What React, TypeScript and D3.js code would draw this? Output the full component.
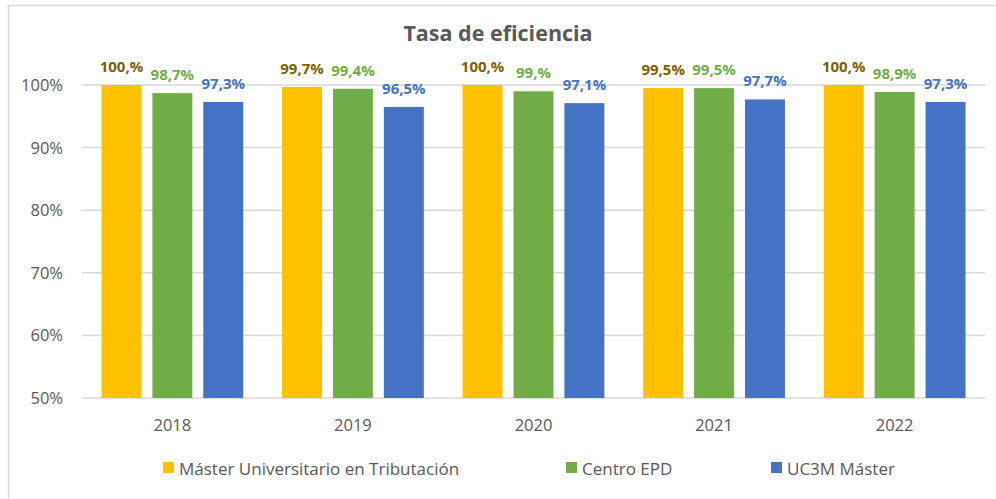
import React from "react";
import * as d3 from "d3";

const categories = ["2018", "2019", "2020", "2021", "2022"];
const seriesNames = ["Máster Universitario en Tributación", "Centro EPD", "UC3M Máster"];
const masterValues = [100, 99.7, 100, 99.5, 100];
const centroValues = [98.7, 99.4, 99.0, 99.5, 98.9];
const uc3mValues = [97.3, 96.5, 97.1, 97.7, 97.3];
const masterLabels = ["100,%", "99,7%", "100,%", "99,5%", "100,%"];
const centroLabels = ["98,7%", "99,4%", "99,%", "99,5%", "98,9%"];
const uc3mLabels = ["97,3%", "96,5%", "97,1%", "97,7%", "97,3%"];
const yTicks = [50, 60, 70, 80, 90, 100];

const colors = ["#FFC000", "#70AD47", "#4472C4"];
const labelColors = ["#7F6000", "#70AD47", "#4472C4"];
const FONT = "'Open Sans', 'Noto Sans', sans-serif";

export default function App() {
  const W = 996, H = 499;
  const left = 82, right = 985, top = 85, bottom = 398;
  const x = d3.scaleBand<string>().domain(categories).range([left, right]).paddingInner(0.215).paddingOuter(0.108);
  const inner = d3.scaleBand<number>().domain([0, 1, 2]).range([0, x.bandwidth()]).paddingInner(0.215);
  const y = d3.scaleLinear().domain([50, 100]).range([bottom, top]);
  const values = [masterValues, centroValues, uc3mValues];
  const labels = [masterLabels, centroLabels, uc3mLabels];
  const legendX = [163, 566, 771];

  return (
    <svg width={W} height={H} style={{ position: "absolute", left: 0, top: 0, background: "#fff" }} fontFamily={FONT}>
      <rect x={8.5} y={5.5} width={W + 10} height={H + 10} fill="#fff" stroke="#D9D9D9" strokeWidth={1.5} />
      <text x={498} y={41} textAnchor="middle" fontSize={21.5} fontWeight={700} fill="#595959">Tasa de eficiencia</text>
      {yTicks.map(t => (
        <g key={t}>
          <line x1={left} x2={right} y1={y(t)} y2={y(t)} stroke="#D9D9D9" strokeWidth={1.5} />
          <text x={63} y={y(t) + 6} textAnchor="end" fontSize={16.5} fill="#595959">{t}%</text>
        </g>
      ))}
      {categories.map((c, i) => (
        <g key={c}>
          {values.map((vals, s) => {
            const bx = (x(c) as number) + (inner(s) as number);
            const bw = inner.bandwidth();
            return (
              <g key={s}>
                <rect x={bx} y={y(vals[i])} width={bw} height={bottom - y(vals[i])} fill={colors[s]} />
                <text x={bx + bw / 2} y={y(vals[i]) - 13} textAnchor="middle" fontSize={15} fontWeight={700} fill={labelColors[s]}>{labels[s][i]}</text>
              </g>
            );
          })}
          <text x={(x(c) as number) + x.bandwidth() / 2} y={431} textAnchor="middle" fontSize={16.5} fill="#595959">{c}</text>
        </g>
      ))}
      {seriesNames.map((n, s) => (
        <g key={n}>
          <rect x={legendX[s]} y={462} width={11} height={11} fill={colors[s]} />
          <text x={legendX[s] + 16} y={474.5} fontSize={17} fill="#595959">{n}</text>
        </g>
      ))}
    </svg>
  );
}
